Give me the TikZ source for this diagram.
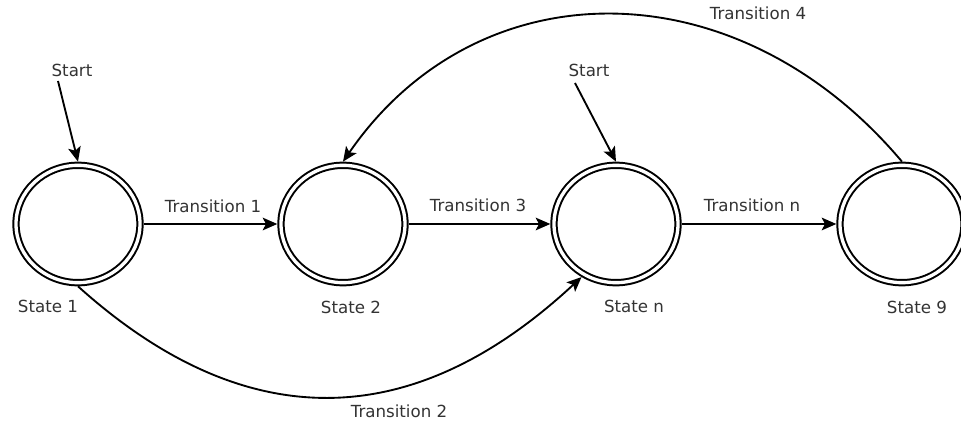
\documentclass[tikz,border=0pt]{standalone}
\usepackage{fontspec}
\setmainfont{DejaVu Sans}
\usetikzlibrary{shapes.geometric,arrows.meta}

\tikzset{every picture/.style={line width=0.75pt}}
\tikzset{
  state/.style={draw, ellipse, double, double distance=2.5pt, line width=1.5pt,
    minimum width=93pt, minimum height=88pt, inner sep=0pt, outer sep=2.75pt},
  tlabel/.style={inner sep=0.75pt, font=\fontsize{12.5}{14}\selectfont, text=black!80},
  trans/.style={line width=1.4pt, -{Stealth[length=11pt,width=9.5pt,inset=2.5pt]}}
}

\begin{document}
\begin{tikzpicture}[x=0.75pt,y=0.75pt,yscale=-1,xscale=1]
\useasboundingbox (0,0) rectangle (961,423);

%Shape: States
\node [state] (s1) at (78,224) {};
\node [state] (s2) at (343,224) {};
\node [state] (sn) at (616,224) {};
\node [state] (s9) at (902,224) {};

% Text Node
\node [tlabel] (start1) at (72,70) {Start};
% Text Node
\node [tlabel] (startn) at (589,70) {Start};
% Text Node
\node [tlabel] (l1) at (48,306) {State 1};
% Text Node
\node [tlabel] (l2) at (351,307) {State 2};
% Text Node
\node [tlabel] (ln) at (634,306) {State n};
% Text Node
\node [tlabel] (l9) at (917,307) {State 9};
% Text Node
\node [tlabel] (t1) at (213,206) {Transition 1};
% Text Node
\node [tlabel] (t3) at (478,205) {Transition 3};
% Text Node
\node [tlabel] (tn) at (752,205) {Transition n};
% Text Node
\node [tlabel] (t4) at (758,13) {Transition 4};
% Text Node
\node [tlabel] (t2) at (399,411) {Transition 2};

%Straight Lines: start arrows
\coordinate (p1) at (58,81);
\coordinate (pn) at (575,83);
\draw [trans] (p1) -- (s1.north);
\draw [trans] (pn) -- (sn.north);

%Straight Lines: transitions
\draw [trans] (s1) -- (s2);
\draw [trans] (s2) -- (sn);
\draw [trans] (sn) -- (s9);

%Curve Lines
\draw [trans] (s1.south) .. controls +(150,135) and +(-185,172) .. (sn.237);
\draw [trans] (s9.north) .. controls +(-165,-196) and +(135,-196) .. (s2.north);

\end{tikzpicture}
\end{document}
